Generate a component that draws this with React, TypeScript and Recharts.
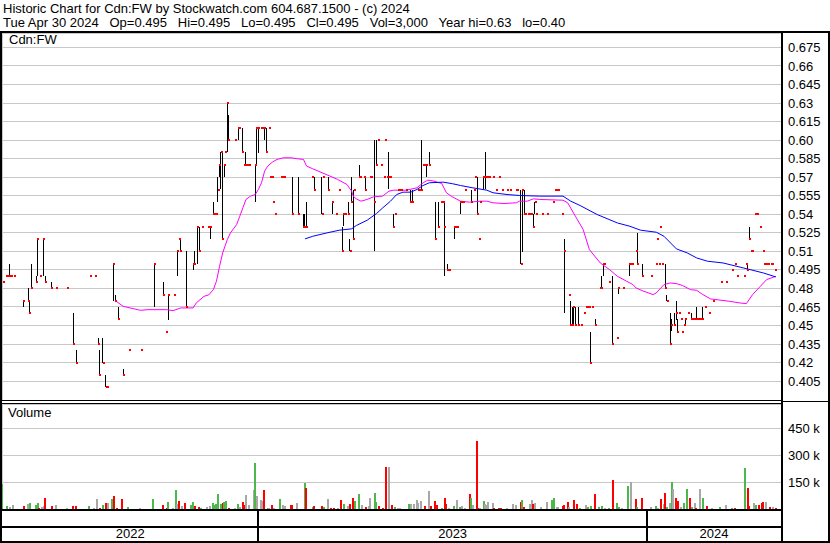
import React from 'react';
import { ComposedChart, Bar, Line, Scatter, XAxis, YAxis, CartesianGrid } from 'recharts';

const FONT = '"Liberation Sans", Arial, sans-serif';

// trading session index (0 = early May 2022), high, low, close
const priceRows: [number, number, number, number][] = [
  [1, .485, .485, .485], [3, .49, .49, .49], [4, .49, .49, .49], [5, .50, .49, .49], [6, .49, .49, .49],
  [8, .49, .49, .49], [14, .47, .465, .47], [17, .48, .47, .47], [18, .47, .46, .46], [19, .50, .48, .48],
  [22, .49, .485, .485], [23, .52, .49, .52], [25, .49, .49, .49], [27, .52, .49, .52], [28, .49, .485, .485],
  [32, .485, .48, .48], [35, .48, .48, .48], [42, .48, .48, .48], [46, .46, .435, .435], [48, .43, .42, .42],
  [57, .49, .49, .49], [60, .49, .49, .49], [62, .44, .435, .435], [63, .43, .41, .41], [65, .44, .42, .42],
  [67, .41, .40, .40], [68, .40, .40, .40], [72, .50, .47, .50], [73, .475, .47, .47], [75, .465, .455, .455],
  [78, .415, .41, .41], [82, .43, .43, .43], [90, .43, .43, .43], [98, .50, .465, .50], [104, .485, .475, .475],
  [106, .445, .445, .445], [107, .475, .455, .475], [111, .475, .475, .475], [113, .51, .49, .51], [114, .52, .52, .52],
  [115, .52, .51, .51], [119, .51, .465, .465], [123, .50, .495, .50], [124, .51, .50, .50], [126, .53, .50, .53],
  [127, .53, .51, .51], [129, .53, .53, .53], [133, .53, .53, .53], [134, .53, .52, .53], [136, .55, .54, .54],
  [137, .54, .54, .54], [138, .54, .54, .54], [139, .57, .55, .56], [140, .58, .57, .58], [141, .59, .56, .59],
  [142, .59, .52, .52], [143, .58, .57, .58], [144, .59, .59, .59], [145, .63, .59, .63], [146, .62, .60, .60],
  [150, .60, .60, .60], [152, .61, .60, .61], [153, .61, .61, .61], [155, .61, .59, .59], [156, .58, .58, .58],
  [157, .59, .58, .58], [158, .58, .58, .58], [159, .58, .58, .58], [163, .58, .55, .58], [164, .61, .58, .61],
  [165, .61, .59, .61], [167, .61, .61, .61], [168, .61, .61, .61], [169, .61, .60, .61], [170, .61, .59, .59],
  [172, .61, .61, .61], [173, .57, .57, .57], [174, .57, .57, .57], [175, .55, .55, .55], [176, .54, .54, .54],
  [180, .57, .57, .57], [181, .57, .57, .57], [182, .57, .57, .57], [187, .57, .54, .54], [191, .57, .54, .54],
  [194, .54, .53, .53], [195, .54, .53, .53], [196, .55, .53, .53], [200, .57, .57, .57], [201, .57, .56, .56],
  [206, .57, .54, .54], [207, .57, .57, .57], [210, .57, .56, .56], [213, .55, .54, .55], [215, .54, .54, .54],
  [217, .56, .56, .56], [219, .53, .51, .51], [220, .54, .53, .54], [221, .54, .54, .54], [223, .55, .54, .54],
  [224, .52, .51, .51], [225, .57, .55, .55], [226, .56, .52, .52], [227, .56, .56, .56], [230, .58, .57, .57],
  [231, .57, .57, .57], [233, .57, .57, .57], [234, .57, .56, .56], [237, .57, .57, .57], [238, .57, .57, .57],
  [240, .60, .51, .55], [241, .60, .58, .58], [242, .60, .60, .60], [244, .58, .58, .58], [246, .57, .57, .57],
  [247, .60, .60, .60], [248, .57, .57, .57], [249, .59, .56, .57], [250, .57, .57, .57], [252, .54, .53, .53],
  [253, .54, .54, .54], [255, .56, .56, .56], [256, .56, .56, .56], [257, .56, .56, .56], [260, .56, .56, .56],
  [263, .56, .55, .55], [264, .56, .55, .55], [268, .56, .56, .56], [269, .56, .56, .56], [270, .60, .56, .56],
  [271, .58, .58, .58], [272, .58, .58, .58], [273, .58, .57, .58], [275, .59, .58, .58], [279, .55, .52, .52],
  [281, .55, .53, .53], [283, .55, .55, .55], [284, .55, .55, .55], [285, .55, .49, .53], [287, .50, .495, .495],
  [288, .495, .495, .495], [291, .53, .52, .53], [292, .53, .53, .53], [293, .53, .53, .53], [295, .55, .54, .55],
  [296, .55, .55, .55], [297, .55, .55, .55], [298, .56, .56, .56], [302, .56, .55, .55], [304, .56, .56, .56],
  [305, .57, .57, .57], [306, .57, .54, .54], [307, .52, .52, .52], [308, .55, .55, .55], [310, .57, .56, .57],
  [311, .59, .56, .57], [312, .57, .57, .57], [313, .57, .57, .57], [314, .57, .57, .57], [316, .57, .57, .57],
  [318, .56, .56, .56], [320, .57, .57, .57], [322, .56, .56, .56], [325, .56, .56, .56], [327, .56, .56, .56],
  [331, .56, .56, .56], [332, .56, .56, .56], [334, .56, .50, .50], [335, .56, .51, .56], [336, .56, .54, .54],
  [337, .54, .54, .54], [339, .54, .54, .54], [340, .54, .54, .54], [341, .54, .54, .54], [342, .54, .53, .53],
  [343, .55, .54, .55], [344, .54, .54, .54], [348, .54, .54, .54], [351, .54, .54, .54], [355, .55, .55, .55],
  [356, .56, .56, .56], [357, .56, .56, .56], [358, .56, .56, .56], [361, .54, .54, .54], [362, .52, .46, .51],
  [365, .475, .475, .475], [366, .47, .45, .45], [367, .465, .45, .45], [368, .465, .45, .465], [369, .465, .45, .45],
  [371, .465, .45, .45], [373, .45, .45, .45], [375, .46, .46, .46], [376, .465, .465, .465], [377, .465, .465, .465],
  [378, .465, .465, .465], [379, .445, .42, .42], [380, .465, .465, .465], [382, .455, .45, .45], [385, .48, .48, .48],
  [386, .49, .48, .48], [387, .50, .49, .50], [388, .50, .50, .50], [391, .485, .485, .485], [393, .49, .435, .435],
  [396, .44, .44, .44], [397, .48, .475, .48], [400, .48, .48, .48], [404, .50, .49, .50], [405, .50, .50, .50],
  [406, .50, .50, .50], [408, .51, .51, .51], [409, .525, .50, .50], [412, .50, .49, .49], [418, .49, .49, .49],
  [421, .50, .50, .50], [422, .52, .52, .52], [423, .50, .50, .50], [424, .53, .53, .53], [425, .50, .50, .50],
  [427, .50, .48, .48], [428, .475, .47, .47], [430, .46, .435, .435], [431, .455, .445, .45], [433, .46, .45, .45],
  [434, .47, .455, .46], [435, .455, .445, .445], [436, .46, .46, .46], [437, .455, .455, .455], [438, .445, .445, .445],
  [439, .45, .45, .45], [440, .455, .45, .455], [442, .46, .46, .46], [444, .46, .455, .455], [445, .455, .455, .455],
  [446, .455, .455, .455], [447, .465, .455, .455], [448, .455, .455, .455], [449, .455, .455, .455], [450, .455, .455, .455],
  [451, .465, .455, .455], [453, .465, .465, .465], [455, .46, .46, .46], [458, .47, .47, .47], [463, .485, .485, .485],
  [466, .485, .485, .485], [470, .495, .495, .495], [472, .50, .50, .50], [473, .49, .49, .49], [478, .49, .49, .49],
  [479, .50, .50, .50], [480, .50, .495, .495], [481, .53, .52, .52], [482, .51, .51, .51], [483, .51, .51, .51],
  [485, .54, .54, .54], [486, .54, .54, .54], [488, .53, .53, .53], [490, .51, .51, .51], [491, .50, .50, .50],
  [492, .50, .50, .50], [493, .50, .50, .50], [495, .50, .50, .50], [496, .50, .50, .50], [498, .495, .495, .495],
];

// session index, shares traded, 1 = up day, -1 = down day, 0 = unchanged
const volumeRows: [number, number, number][] = [
  [0, 142000, 1], [3, 17000, 1], [5, 10000, 0], [7, 23000, 0], [14, 17000, -1], [17, 29000, 0], [18, 33000, 1],
  [22, 23000, 1], [23, 35000, 1], [24, 8000, -1], [26, 13000, 0], [27, 17000, 0], [28, 63000, -1], [32, 17000, -1],
  [35, 23000, 0], [42, 6000, 0], [46, 17000, -1], [48, 17000, -1], [56, 17000, 1], [59, 8000, 0], [61, 58000, 0],
  [63, 8000, -1], [65, 23000, 1], [67, 35000, -1], [68, 31000, 0], [71, 58000, 1], [72, 75000, -1], [74, 6000, -1],
  [77, 58000, -1], [81, 12000, 1], [89, 6000, 0], [97, 58000, 1], [104, 23000, -1], [106, 8000, -1], [107, 40000, 1],
  [110, 8000, 0], [112, 104000, 1], [113, 29000, 0], [114, 44000, -1], [116, 17000, 0], [118, 35000, -1],
  [122, 25000, 1], [123, 40000, 1], [124, 17000, -1], [127, 12000, -1], [128, 8000, 1], [132, 13000, 0],
  [134, 19000, 0], [136, 35000, 1], [137, 25000, 1], [138, 29000, 1], [139, 81000, 1], [141, 29000, 1],
  [142, 35000, -1], [143, 37000, 1], [144, 46000, 1], [146, 8000, -1], [150, 8000, 0], [152, 29000, 1],
  [153, 12000, 0], [155, 40000, -1], [156, 23000, -1], [157, 77000, 0], [159, 23000, 0], [162, 104000, 0],
  [163, 254000, 1], [164, 71000, 0], [167, 52000, 0], [168, 42000, 0], [169, 104000, -1], [171, 8000, 1],
  [172, 8000, 0], [174, 23000, -1], [175, 8000, 0], [179, 58000, 1], [181, 23000, 0], [182, 17000, 0],
  [186, 23000, -1], [187, 23000, -1], [190, 35000, 0], [195, 144000, 1], [196, 115000, -1], [200, 12000, 1],
  [201, 17000, -1], [206, 17000, -1], [207, 12000, 1], [210, 58000, 0], [212, 6000, -1], [214, 6000, -1],
  [216, 8000, 0], [218, 52000, -1], [220, 29000, 1], [223, 17000, 0], [224, 29000, -1], [226, 60000, -1],
  [227, 46000, 1], [230, 81000, 1], [232, 23000, 0], [234, 12000, -1], [236, 17000, 0], [237, 63000, 0],
  [240, 87000, 1], [241, 40000, 1], [243, 17000, -1], [245, 6000, -1], [247, 233000, -1], [249, 233000, 0],
  [251, 23000, -1], [253, 12000, 1], [255, 6000, 0], [256, 6000, 0], [262, 29000, 1], [263, 29000, 0],
  [265, 29000, 0], [267, 52000, 0], [268, 35000, 0], [270, 42000, 0], [272, 17000, -1], [275, 98000, 0],
  [276, 17000, -1], [279, 46000, -1], [280, 23000, -1], [283, 6000, 1], [285, 63000, -1], [286, 29000, -1],
  [288, 8000, 0], [291, 17000, 1], [293, 52000, 0], [295, 12000, 1], [296, 17000, 0], [298, 8000, 0],
  [301, 81000, -1], [302, 63000, 1], [303, 23000, 0], [306, 381000, -1], [307, 8000, -1], [308, 6000, 0],
  [310, 46000, 1], [311, 29000, 0], [312, 23000, 0], [313, 40000, 0], [316, 35000, 0], [317, 6000, -1],
  [320, 6000, -1], [321, 6000, -1], [325, 6000, 0], [329, 29000, 0], [331, 23000, 0], [334, 40000, -1],
  [335, 52000, 1], [336, 12000, -1], [340, 29000, 0], [341, 52000, 0], [342, 29000, -1], [343, 35000, 0],
  [347, 12000, 0], [351, 40000, 0], [354, 52000, 1], [355, 63000, 1], [357, 12000, 0], [358, 12000, 0],
  [361, 17000, -1], [362, 23000, -1], [364, 40000, -1], [365, 12000, 0], [368, 52000, -1], [370, 29000, -1],
  [372, 6000, 1], [376, 23000, 0], [377, 12000, 1], [379, 17000, 1], [382, 81000, -1], [384, 12000, 1],
  [386, 17000, 1], [388, 6000, 0], [391, 6000, 1], [393, 162000, -1], [396, 35000, 1], [397, 13000, 1],
  [399, 6000, 0], [403, 127000, 1], [405, 150000, 0], [408, 58000, -1], [409, 12000, 1], [412, 63000, -1],
  [418, 12000, 0], [421, 17000, 1], [422, 6000, 0], [424, 58000, -1], [426, 29000, 0], [427, 87000, -1],
  [428, 12000, 1], [430, 35000, 0], [431, 150000, 1], [432, 110000, 0], [434, 63000, -1], [435, 42000, -1],
  [437, 12000, 0], [439, 35000, 1], [441, 110000, 1], [443, 63000, -1], [444, 12000, 1], [446, 35000, 0],
  [447, 8000, -1], [449, 110000, 0], [451, 63000, 1], [454, 17000, -1], [457, 6000, 0], [462, 12000, 1],
  [466, 23000, 0], [470, 8000, 1], [472, 6000, -1], [478, 231000, 1], [480, 115000, -1], [481, 17000, -1],
  [484, 35000, 0], [485, 23000, 1], [487, 23000, -1], [489, 35000, -1], [490, 40000, -1], [492, 40000, 0],
  [494, 12000, -1], [496, 12000, 0], [498, 3000, -1],
];

// moving averages (magenta = short, blue = long)
const maShortRows: [number, number][] = [
  [73, .470], [78, .4655], [89, .4623], [94, .4628], [106, .4628], [110, .462], [115, .4642], [123, .4642],
  [125, .4682], [130, .4736], [133, .4747], [136, .479], [138, .4858], [140, .4979], [142, .5087], [145, .5195],
  [147, .5249], [151, .5317], [153, .5384], [155, .5452], [157, .552], [160, .5547], [163, .556], [165, .5601],
  [167, .5655], [169, .5749], [171, .579], [174, .5822], [177, .5844], [181, .5857], [186, .5857], [190, .5849],
  [194, .5844], [196, .579], [200, .5768], [206, .5736], [211, .5709], [216, .5682], [222, .5641], [225, .5587],
  [226, .5547], [228, .5525], [231, .5506], [235, .552], [239, .5541], [245, .5547], [249, .5587], [252, .5595],
  [260, .5595], [267, .5614], [271, .5655], [274, .5676], [278, .5668], [283, .5649], [286, .5574], [289, .5547],
  [295, .5506], [301, .5498], [308, .5506], [312, .5506], [316, .5493], [323, .5487], [331, .5493], [333, .5506],
  [338, .5506], [342, .5525], [346, .552], [361, .5514], [364, .5493], [369, .5384], [374, .5276], [378, .5114],
  [385, .5006], [391, .4952], [396, .4898], [402, .4858], [406, .4831], [408, .4804], [413, .4777], [419, .475],
  [421, .4763], [426, .4831], [430, .4844], [434, .4839], [438, .4823], [443, .479], [447, .4785], [451, .475],
  [456, .4715], [468, .4696], [475, .4682], [479, .4677], [483, .475], [488, .4817], [492, .4871], [498, .4898],
];
const maLongRows: [number, number][] = [
  [195, .5201], [200, .5222], [209, .5249], [217, .5271], [225, .5282], [228, .5309], [235, .5352], [241, .5406],
  [245, .5452], [250, .5506], [254, .556], [258, .5579], [263, .5579], [267, .5601], [271, .5633], [275, .5655],
  [284, .566], [290, .5647], [295, .5633], [303, .5614], [312, .5595], [316, .5574], [325, .556], [333, .5552],
  [346, .5547], [361, .5547], [366, .5506], [372, .5471], [383, .5398], [396, .533], [404, .5303], [411, .5271],
  [421, .5255], [426, .5222], [434, .512], [441, .5087], [447, .5047], [454, .502], [464, .5006], [477, .4966],
  [490, .4925], [498, .4893],
];

const monthStarts = [19, 40, 60, 82, 103, 124, 145, 165, 187, 206, 227, 247, 269, 289, 311, 332, 352, 374, 395, 415, 437, 457, 477, 498];
const yearStarts = [0, 165, 415];
const yearLabels = ['2022', '2023', '2024'];
const X_END = 501.3;

const priceTicks = [0.405, 0.42, 0.435, 0.45, 0.465, 0.48, 0.495, 0.51, 0.525, 0.54, 0.555, 0.57, 0.585, 0.60, 0.615, 0.63, 0.645, 0.66, 0.675];
const volumeTicks = [150000, 300000, 450000];

const sessions = priceRows.map(([i, h, l, c]) => ({ i, h, l, c }));
const volumes = volumeRows.map(([i, v, d]) => ({ i, v, d }));
const maShort = maShortRows.map(([i, v]) => ({ i, v }));
const maLong = maLongRows.map(([i, v]) => ({ i, v }));

const yearCenters = yearStarts.map((s, k) => (s + (yearStarts[k + 1] ?? X_END)) / 2);
const yearTicks = [...yearStarts.slice(1), ...yearCenters].sort((a, b) => a - b);

const VOL_COLORS: Record<number, string> = { 1: '#4cb84c', [-1]: '#ff0000', 0: '#a8a8a8' };
const GRID = '#c8c8c8';

const PriceStick = (p: any) => {
  const { x, y, width, height } = p;
  if (!height || Math.abs(height) < 0.5) return <g />;
  const cx = x + width / 2;
  const top = Math.min(y, y + height);
  return (
    <rect x={Math.round(cx - 0.5)} y={Math.round(top)} width={1}
      height={Math.max(1, Math.round(Math.abs(height)))} fill="#000" shapeRendering="crispEdges" />
  );
};

const CloseDot = (p: any) => {
  const { cx, cy } = p;
  if (cx == null || cy == null) return <g />;
  return <rect x={Math.round(cx - 0.5)} y={Math.round(cy - 1)} width={2} height={2} fill="#ff0000" shapeRendering="crispEdges" />;
};

const VolumeStick = (p: any) => {
  const { x, y, width, height, payload } = p;
  if (!height) return <g />;
  const cx = x + width / 2;
  return (
    <rect x={Math.round(cx - 1)} y={Math.round(y)} width={2} height={Math.max(1, Math.round(height))}
      fill={VOL_COLORS[payload.d]} shapeRendering="crispEdges" />
  );
};

const YearTick = (p: any) => {
  const { x, y, payload } = p;
  const j = yearCenters.indexOf(payload.value);
  if (j >= 0) {
    return (
      <text x={x} y={y + 29} textAnchor="middle" fontSize={13} fontFamily={FONT} fill="#000">
        {yearLabels[j]}
      </text>
    );
  }
  return <rect x={Math.round(x - 1)} y={y} width={2} height={33} fill="#000" />;
};

const fmtPrice = (v: number) => v.toFixed(3).replace(/0$/, '');
const fmtVol = (v: number) => `${v / 1000} k`;

const line = (left: number, top: number, width: number, height: number) => (
  <div style={{ position: 'absolute', left, top, width, height, background: '#000' }} />
);

export default function App() {
  const tick = { fontSize: 13, fill: '#000', fontFamily: FONT };
  return (
    <div style={{ position: 'absolute', left: 0, top: 0, width: 830, height: 543, background: '#fff', overflow: 'hidden', fontFamily: FONT, fontSize: 13, color: '#000' }}>
      <div style={{ position: 'absolute', left: 3, top: 2, lineHeight: '13px', whiteSpace: 'pre' }}>
        Historic Chart for Cdn:FW by Stockwatch.com 604.687.1500 - (c) 2024
      </div>
      <div style={{ position: 'absolute', left: 3, top: 15.5, lineHeight: '13px', whiteSpace: 'pre' }}>
        {'Tue Apr 30 2024   Op=0.495   Hi=0.495   Lo=0.495   Cl=0.495   Vol=3,000   Year hi=0.63   lo=0.40'}
      </div>

      <div style={{ position: 'absolute', left: 2, top: 33 }}>
        <ComposedChart width={823} height={367} data={sessions} margin={{ top: 0, right: 0, bottom: 0, left: 0 }}>
          <CartesianGrid stroke={GRID} shapeRendering="crispEdges" />
          <XAxis type="number" dataKey="i" domain={[0, X_END]} ticks={monthStarts} interval={0} allowDataOverflow
            tick={false} tickLine={false} axisLine={false} height={0} />
          <YAxis type="number" orientation="right" width={44} domain={[0.3897, 0.6867]} ticks={priceTicks} interval={0}
            allowDataOverflow tickFormatter={fmtPrice} tick={tick} tickLine={false} axisLine={false} tickSize={0} tickMargin={7} />
          <Bar dataKey={(d: any) => [d.l, d.h]} shape={PriceStick} isAnimationActive={false} />
          <Scatter data={sessions} dataKey="c" shape={CloseDot} isAnimationActive={false} />
          <Line data={maShort} dataKey="v" type="linear" stroke="#ff00ff" strokeWidth={1} dot={false} activeDot={false} isAnimationActive={false} />
          <Line data={maLong} dataKey="v" type="linear" stroke="#0000ff" strokeWidth={1} dot={false} activeDot={false} isAnimationActive={false} />
        </ComposedChart>
      </div>

      <div style={{ position: 'absolute', left: 2, top: 404 }}>
        <ComposedChart width={823} height={138} data={volumes} margin={{ top: 0, right: 0, bottom: 0, left: 0 }}>
          <CartesianGrid stroke={GRID} xAxisId="m" shapeRendering="crispEdges" />
          <XAxis xAxisId="m" type="number" dataKey="i" domain={[0, X_END]} ticks={monthStarts} interval={0} allowDataOverflow
            tick={false} tickLine={false} axisLine={false} height={0} />
          <XAxis xAxisId="yr" type="number" dataKey="i" domain={[0, X_END]} ticks={yearTicks} interval={0} allowDataOverflow
            tick={YearTick} tickLine={false} axisLine={false} height={33} tickSize={0} tickMargin={0} />
          <YAxis type="number" orientation="right" width={44} domain={[0, 585000]} ticks={volumeTicks} interval={0}
            allowDataOverflow tickFormatter={fmtVol} tick={tick} tickLine={false} axisLine={false} tickSize={0} tickMargin={7} />
          <Bar xAxisId="m" dataKey="v" shape={VolumeStick} isAnimationActive={false} />
        </ComposedChart>
      </div>

      <div style={{ position: 'absolute', left: 9, top: 33, lineHeight: '13px' }}>Cdn:FW</div>
      <div style={{ position: 'absolute', left: 8, top: 405.5, lineHeight: '13px' }}>Volume</div>

      {line(0, 31, 830, 2)}
      {line(0, 31, 2, 512)}
      {line(828, 31, 2, 512)}
      {line(0, 541, 830, 2)}
      {line(781, 31, 2, 512)}
      {line(0, 400, 781, 1)}
      {line(0, 403, 781, 1)}
      {line(781, 401, 49, 1)}
      {line(0, 509, 781, 2)}
      {line(0, 526, 781, 2)}
    </div>
  );
}
